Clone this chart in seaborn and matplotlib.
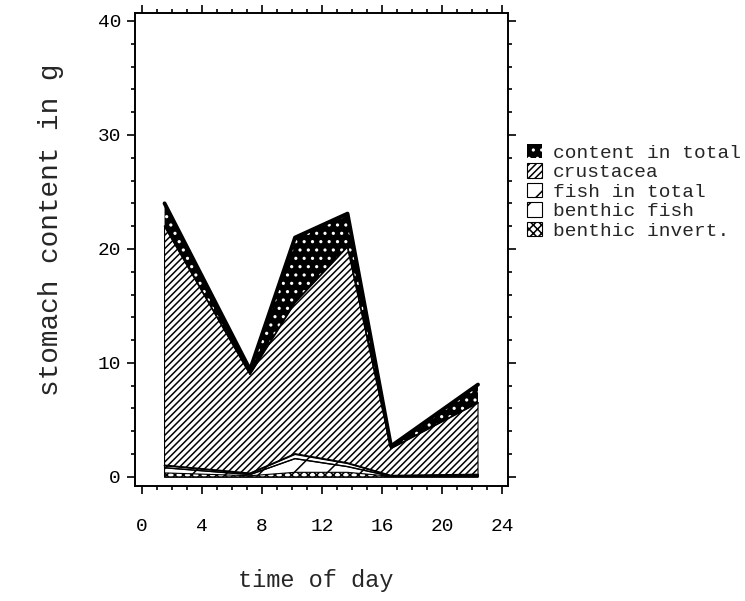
import matplotlib
matplotlib.use("Agg")
import matplotlib.pyplot as plt
import seaborn as sns
import numpy as np
from matplotlib.ticker import MultipleLocator, FixedLocator

# ---- data ----
hours = [1.5, 7.2, 10.2, 13.7, 16.6, 22.4]
content_total = [24.0, 9.4, 21.0, 23.1, 2.7, 8.1]
crustacea = [22.0, 9.0, 15.3, 20.2, 2.5, 6.5]
fish_total = [1.0, 0.3, 2.0, 1.2, 0.1, 0.2]
benthic_fish = [0.8, 0.2, 1.6, 0.9, 0.05, 0.1]
benthic_invert = [0.35, 0.1, 0.4, 0.4, 0.05, 0.1]

series_names = ["content in total", "crustacea", "fish in total",
                "benthic fish", "benthic invert."]
x_ticks = [0, 4, 8, 12, 16, 20, 24]
y_ticks = [0, 10, 20, 30, 40]
x_label = "time of day"
y_label = "stomach content in g"

# ---- style ----
sns.set_style("ticks")
plt.rcParams["font.family"] = ["Liberation Mono", "DejaVu Sans Mono"]
plt.rcParams["hatch.linewidth"] = 1.1

fig = plt.figure(figsize=(7.45, 6.01), dpi=100)
ax = fig.add_axes([135 / 745, 1 - 486 / 601, 373 / 745, 473 / 601])

# areas (overlapping, each from zero)
ax.fill_between(hours, 0, content_total, facecolor="black", edgecolor="white",
                hatch="..", linewidth=0, label=series_names[0], zorder=1)
ax.fill_between(hours, 0, crustacea, facecolor="white", edgecolor="black",
                hatch="/////", linewidth=0.8, label=series_names[1], zorder=2)
ax.fill_between(hours, 0, fish_total, facecolor="white", edgecolor="black",
                hatch="/", linewidth=0.8, label=series_names[2], zorder=3)
ax.fill_between(hours, 0, benthic_fish, facecolor="white", edgecolor="black",
                hatch="/", linewidth=0.8, label=series_names[3], zorder=4)
ax.fill_between(hours, 0, benthic_invert, facecolor="white", edgecolor="black",
                hatch="xxxx", linewidth=0.8, label=series_names[4], zorder=5)

# outlines via seaborn
sns.lineplot(x=hours, y=content_total, ax=ax, color="black", lw=2.8,
             legend=False, zorder=6)
sns.lineplot(x=hours, y=crustacea, ax=ax, color="black", lw=1.2,
             legend=False, zorder=6)
sns.lineplot(x=hours, y=fish_total, ax=ax, color="black", lw=1.4,
             legend=False, zorder=6)
sns.lineplot(x=hours, y=benthic_fish, ax=ax, color="black", lw=1.0,
             legend=False, zorder=6)

ax.set_xlim(-0.47, 24.4)
ax.set_ylim(-0.8, 40.7)
ax.xaxis.set_major_locator(FixedLocator(x_ticks))
ax.yaxis.set_major_locator(FixedLocator(y_ticks))
ax.xaxis.set_minor_locator(MultipleLocator(1))
ax.yaxis.set_minor_locator(MultipleLocator(2))
ax.set_xticklabels([str(t) for t in x_ticks])
ax.set_yticklabels([str(t) for t in y_ticks])

for s in ax.spines.values():
    s.set_visible(True)
    s.set_linewidth(1.4)
    s.set_color("black")

ax.tick_params(which="both", direction="out", top=True, right=True,
               labeltop=False, labelright=False, colors="black", width=1.2)
ax.tick_params(which="major", length=6)
ax.tick_params(which="minor", length=3)
ax.tick_params(axis="x", which="major", labelsize=14, pad=17)
ax.tick_params(axis="y", which="major", labelsize=14, pad=4)

ax.set_xlabel(x_label, fontsize=17)
ax.set_ylabel(y_label, fontsize=20)
ax.xaxis.set_label_coords(0.485, -0.175)
ax.yaxis.set_label_coords(-0.19, 0.541)

ax.legend(loc="upper left", bbox_to_anchor=(527 / 745, 1 - 144 / 601),
          bbox_transform=fig.transFigure, frameon=False, fontsize=14,
          handlelength=0.75, handleheight=0.75, handletextpad=0.6,
          labelspacing=0.08, borderpad=0, borderaxespad=0)

fig.savefig("out.png", dpi=100)
